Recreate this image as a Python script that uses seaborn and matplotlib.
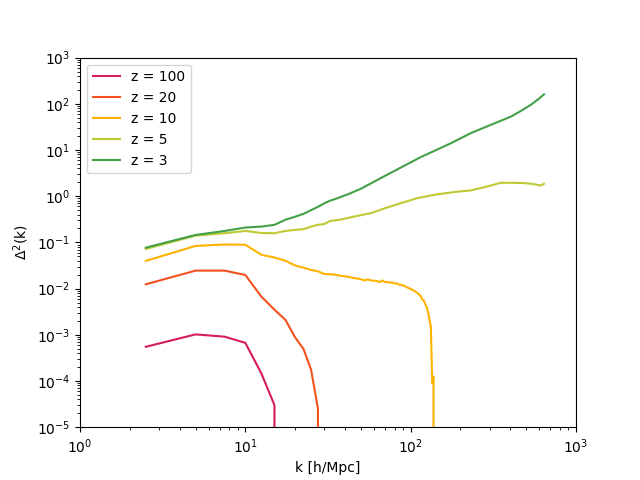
import pandas as pd
import matplotlib
matplotlib.use("Agg")
import matplotlib.pyplot as plt
import seaborn as sns
import numpy as np

# power spectrum values, one set per redshift
k_z100 = [2.5, 5, 7.5, 10, 12.5, 15, 17.5]
d2_z100 = [5.5e-4, 1.02e-3, 9.1e-4, 6.7e-4, 1.46e-4, 3.0e-5, 0.0]

k_z20 = [2.5, 5, 7.5, 10, 12.5, 15, 17.5, 20, 22.5, 25, 27.5, 30]
d2_z20 = [0.0124, 0.0245, 0.0245, 0.0197, 6.7e-3, 3.5e-3, 2.1e-3, 8.8e-4,
          4.9e-4, 1.74e-4, 2.5e-5, 0.0]

k_z10 = [2.5, 5, 7.5, 10, 12.5, 15, 17.5, 20, 22.5, 25, 27.5, 30, 32.5, 35,
         37.5, 40, 42.5, 45, 47.5, 50, 52.5, 55, 57.5, 60, 62.5, 65, 67.5, 70,
         72.5, 75, 77.5, 80, 82.5, 85, 87.5, 90, 92.5, 95, 97.5, 100, 105,
         110, 115, 117.5, 120, 122.5, 125, 127.5, 130, 132.5, 135, 137.5, 140]
d2_z10 = [0.0397, 0.084, 0.090, 0.089, 0.054, 0.047, 0.040, 0.0316, 0.0284,
          0.0253, 0.0237, 0.0207, 0.0205, 0.0200, 0.0190, 0.0185, 0.0178,
          0.0170, 0.0165, 0.0160, 0.0150, 0.0158, 0.0150, 0.0148, 0.0146,
          0.0138, 0.0150, 0.0138, 0.0140, 0.0133, 0.0136, 0.0128, 0.0131,
          0.0121, 0.0122, 0.0116, 0.0113, 0.0106, 0.0103, 0.0098, 0.0090,
          0.0080, 0.0069, 0.0058, 0.0056, 0.0046, 0.0040, 0.0030, 0.0021,
          0.0015, 9e-5, 1.25e-4, 0.0]

k_z5 = [2.5, 5, 7.5, 10, 12.5, 15, 17.5, 20, 22.5, 25, 27.5, 30, 32.5, 35,
        37.5, 45, 57.5, 70, 87.5, 110, 145, 190, 230, 265, 290, 350, 420,
        485, 540, 612.5, 640]
d2_z5 = [0.072, 0.14, 0.158, 0.177, 0.16, 0.158, 0.177, 0.187, 0.193, 0.22,
         0.24, 0.25, 0.29, 0.30, 0.31, 0.36, 0.43, 0.55, 0.71, 0.91, 1.1,
         1.25, 1.33, 1.50, 1.62, 1.95, 1.95, 1.92, 1.85, 1.70, 1.86]

k_z3 = [2.5, 5, 7.5, 10, 12.5, 15, 17.5, 20, 22.5, 25, 27.5, 30, 32.5, 35,
        42.5, 50, 65, 87.5, 115, 175, 230, 305, 405, 470, 535, 590, 640]
d2_z3 = [0.077, 0.145, 0.177, 0.21, 0.22, 0.24, 0.31, 0.36, 0.415, 0.50,
         0.59, 0.70, 0.80, 0.87, 1.13, 1.45, 2.4, 4.2, 7.0, 14, 23, 35, 53,
         72, 96, 125, 160]

labels = ["z = 100", "z = 20", "z = 10", "z = 5", "z = 3"]
colors = ["#d81b60", "#f4511e", "#ffb300", "#c0ca33", "#43a047"]


def build_frame():
    parts = []
    for label, k, d2 in zip(labels,
                            [k_z100, k_z20, k_z10, k_z5, k_z3],
                            [d2_z100, d2_z20, d2_z10, d2_z5, d2_z3]):
        parts.append(pd.DataFrame({"k": k, "d2": d2, "z": label}))
    return pd.concat(parts, ignore_index=True)


def main():
    df = build_frame()

    fig, ax = plt.subplots(figsize=(6.4, 4.8), dpi=100)
    sns.lineplot(data=df, x="k", y="d2", hue="z", hue_order=labels,
                 palette=dict(zip(labels, colors)), estimator=None,
                 linewidth=1.5, ax=ax)
    ax.set_xscale("log")
    ax.set_yscale("log")
    ax.set_xlim(1, 1e3)
    ax.set_ylim(1e-5, 1e3)
    ax.set_xlabel("k [h/Mpc]")
    ax.set_ylabel(r"$\Delta^2$(k)")
    ax.legend(loc="upper left")

    plt.savefig("out.png", dpi=100)


if __name__ == '__main__':
    main()
